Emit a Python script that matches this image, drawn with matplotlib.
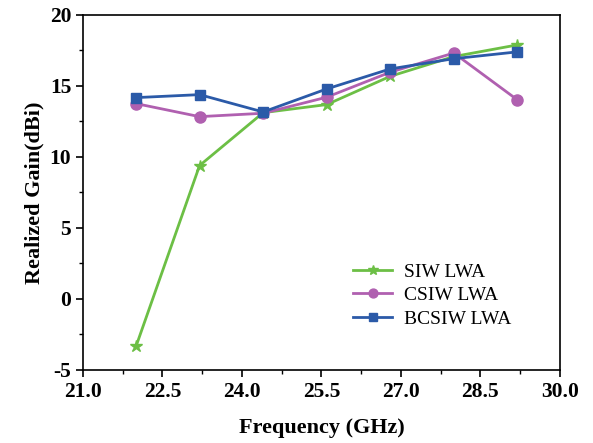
import matplotlib
matplotlib.use('Agg')
import matplotlib.pyplot as plt
from matplotlib.ticker import MultipleLocator

# frequency points (GHz) and realized gain (dBi)
freq = [22.0, 23.2, 24.4, 25.6, 26.8, 28.0, 29.2]
siw = [-3.35, 9.38, 13.1, 13.67, 15.66, 17.05, 17.87]
csiw = [13.74, 12.82, 13.06, 14.19, 15.95, 17.3, 14.0]
bcsiw = [14.16, 14.37, 13.15, 14.77, 16.18, 16.9, 17.38]

labels = ['SIW LWA', 'CSIW LWA', 'BCSIW LWA']
colors = ['#6cbf45', '#b060b0', '#2b5aa8']
markers = ['*', 'o', 's']
msizes = [9, 8, 7]

plt.rcParams['font.family'] = ['Liberation Serif', 'DejaVu Serif']
plt.rcParams['axes.unicode_minus'] = False

fig = plt.figure(figsize=(5.93, 4.43), dpi=100)
ax = fig.add_axes([0.14, 0.165, 0.804, 0.802])

for y, lab, c, m, ms in zip([siw, csiw, bcsiw], labels, colors, markers, msizes):
    ax.plot(freq, y, color=c, marker=m, markersize=ms, linewidth=2, label=lab)

ax.set_xlim(21.0, 30.0)
ax.set_ylim(-5, 20)
ax.set_xticks([21.0, 22.5, 24.0, 25.5, 27.0, 28.5, 30.0])
ax.set_xticklabels(['21.0', '22.5', '24.0', '25.5', '27.0', '28.5', '30.0'])
ax.xaxis.set_minor_locator(MultipleLocator(0.75))
ax.yaxis.set_major_locator(MultipleLocator(5))
ax.yaxis.set_minor_locator(MultipleLocator(2.5))
ax.tick_params(which='major', direction='out', length=5, width=1.2, labelsize=15.5)
ax.tick_params(which='minor', direction='out', length=3, width=1.0)
for lbl in ax.get_xticklabels() + ax.get_yticklabels():
    lbl.set_fontweight('bold')
for sp in ax.spines.values():
    sp.set_linewidth(1.2)

ax.set_xlabel('Frequency (GHz)', fontsize=16, fontweight='bold', labelpad=12)
ax.set_ylabel('Realized Gain(dBi)', fontsize=16, fontweight='bold', labelpad=4)

leg = ax.legend(loc='upper left', bbox_to_anchor=(0.53, 0.35), frameon=False,
                fontsize=14, handlelength=2.0, labelspacing=0.3,
                markerscale=0.8, handletextpad=0.6)

fig.savefig('out.png', dpi=100)
